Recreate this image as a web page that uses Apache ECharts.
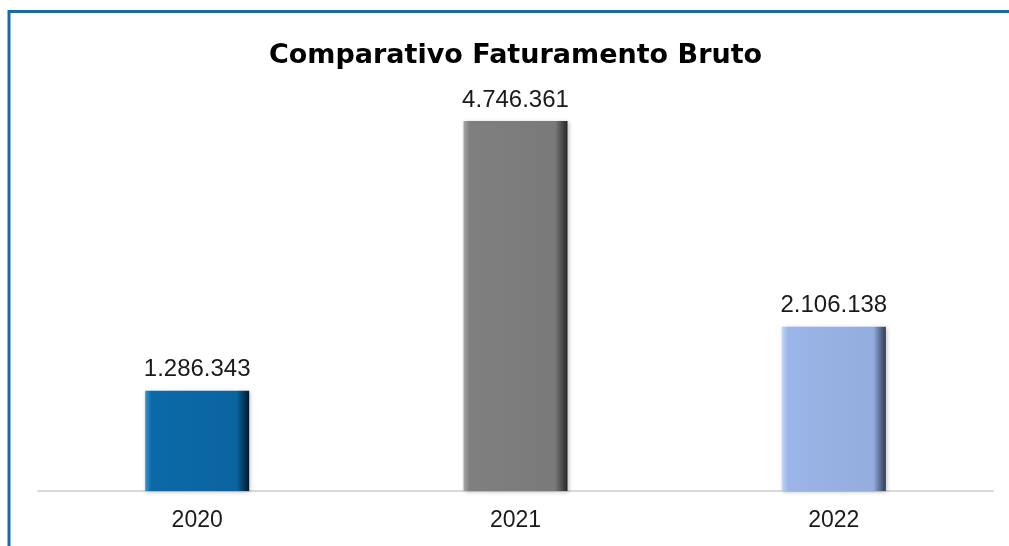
<!DOCTYPE html>
<html>
<head>
<meta charset="utf-8">
<script src="https://cdn.jsdelivr.net/npm/echarts@6/dist/echarts.min.js"></script>
<style>html,body{margin:0;padding:0;background:#fff;}#c{width:1009px;height:546px;}</style>
</head>
<body>
<div id="c"></div>
<script>
const categories = ['2020', '2021', '2022'];
const values = [1286343, 4746361, 2106138];
const titleText = 'Comparativo Faturamento Bruto';

const palettes = [
  ['#3a92cc', '#0c69a8', '#0a64a0', '#031a2a'],
  ['#a8a8a8', '#7f7f7f', '#7a7a7a', '#262626'],
  ['#c4d6f4', '#9bb5e8', '#94addf', '#2e3a52']
];
function fmt(v){ return String(v).replace(/\B(?=(\d{3})+(?!\d))/g, '.'); }

const chart = echarts.init(document.getElementById('c'), null, {renderer: 'canvas'});
chart.setOption({
  animation: false,
  backgroundColor: '#fff',
  title: {
    text: titleText, left: 264, top: 37,
    textStyle: {fontFamily: 'DejaVu Sans', fontWeight: 'bold', fontSize: 27, color: '#000'}
  },
  graphic: [{
    type: 'rect', silent: true,
    shape: {x: 9, y: 11.5, width: 1100, height: 700},
    style: {fill: 'none', stroke: '#1a6aab', lineWidth: 3}
  }],
  grid: {left: 38, right: 16, top: 121, bottom: 55},
  xAxis: {
    type: 'category', data: categories,
    axisLine: {lineStyle: {color: '#d9d9d9', width: 2}},
    axisTick: {show: false},
    axisLabel: {margin: 18, fontFamily: 'Liberation Sans', fontSize: 23, color: '#1a1a1a'}
  },
  yAxis: {type: 'value', min: 0, max: 'dataMax', show: false, splitLine: {show: false}},
  series: [{
    type: 'bar', barWidth: 104,
    data: values.map((v, i) => ({
      value: v,
      itemStyle: {
        color: new echarts.graphic.LinearGradient(0, 0, 1, 0, [
          {offset: 0, color: palettes[i][0]},
          {offset: 0.06, color: palettes[i][1]},
          {offset: 0.88, color: palettes[i][2]},
          {offset: 1, color: palettes[i][3]}
        ]),
        shadowColor: 'rgba(0,0,0,0.25)', shadowBlur: 4, shadowOffsetX: 1, shadowOffsetY: 1
      }
    })),
    label: {
      show: true, position: 'top', distance: 9,
      formatter: p => fmt(p.value),
      fontFamily: 'Liberation Sans', fontSize: 24, color: '#1a1a1a'
    }
  }]
});
</script>
</body>
</html>
